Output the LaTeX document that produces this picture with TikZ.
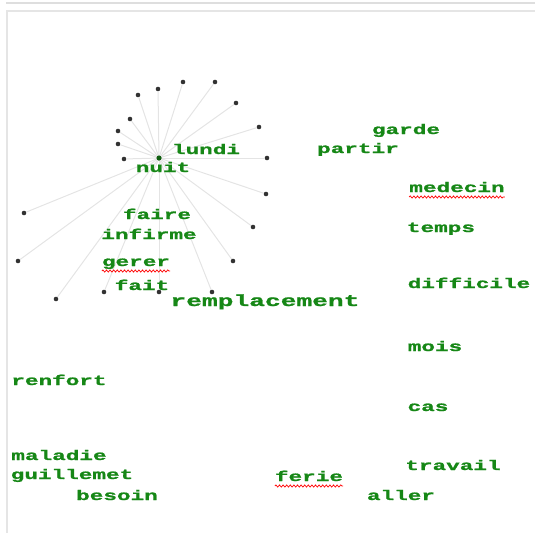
\documentclass[tikz,border=0pt]{standalone}
\usepackage{fontspec}
\usetikzlibrary{decorations.pathmorphing}
\newfontfamily\wordfont[FakeStretch=1.62,FakeBold=1.2]{Liberation Mono}
\definecolor{wordgreen}{RGB}{22,135,22}
\definecolor{spokegray}{RGB}{228,228,228}
\definecolor{dotgray}{RGB}{50,50,50}
\definecolor{framegray}{RGB}{222,222,222}
\begin{document}
\begin{tikzpicture}[x=1pt,y=-1pt,
  word/.style={anchor=base,inner sep=0pt,text=wordgreen,
    font=\wordfont\bfseries\fontsize{14}{16}\selectfont},
  bigword/.style={word,font=\wordfont\bfseries\fontsize{16.2}{18}\selectfont},
  leaf/.style={circle,fill=dotgray,inner sep=0pt,minimum size=4.6pt},
  hubdot/.style={circle,fill=wordgreen!70!black,inner sep=0pt,minimum size=5pt},
  spoke/.style={draw=spokegray,line width=1pt},
  squiggle/.style={draw=red,line width=0.7pt,
    decorate,decoration={snake,segment length=3.6pt,amplitude=1.1pt}},
  frameline/.style={draw=framegray,line width=1.6pt}]
\useasboundingbox (0,0) rectangle (535,533);
% window frame
\draw[frameline] (6,3) -- (535,3);
\draw[frameline,draw=framegray!80] (7,533) -- (7,11) -- (535,11);

% star of spokes around the hub
\node[hubdot] (hub) at (159,158) {};
\foreach \n/\p in {l1/{(138,95)},l2/{(158,89)},l3/{(183,82)},l4/{(215,82)},
  l5/{(236,103)},l6/{(259,127)},l7/{(267,158)},l8/{(266,194)},l9/{(253,227)},
  l10/{(233,261)},l11/{(212,292)},l12/{(159,292)},l13/{(104,292)},
  l14/{(56,299)},l15/{(18,261)},l16/{(24,213)},l17/{(124,159)},
  l18/{(118,144)},l19/{(118,131)},l20/{(130,119)}}{
  \node[leaf] (\n) at \p {};
  \path[spoke] (hub) -- (\n);
}
\node[hubdot] at (hub) {};

% words
\node[word] (lundi) at (206,154) {lundi};
\node[word] (nuit) at (163,172) {nuit};
\node[word] (garde) at (406,134) {garde};
\node[word] (partir) at (358,153) {partir};
\node[word] (medecin) at (457,192) {medecin};
\node[word] (temps) at (441,232) {temps};
\node[word] (difficile) at (469,288) {difficile};
\node[word] (faire) at (157,219) {faire};
\node[word] (infirme) at (149,239) {infirme};
\node[word] (gerer) at (136,266) {gerer};
\node[word] (fait) at (142,290) {fait};
\node[bigword] (remplacement) at (265,306) {remplacement};
\node[word] (mois) at (435,351) {mois};
\node[word] (renfort) at (59,385) {renfort};
\node[word] (cas) at (428,411) {cas};
\node[word] (maladie) at (59,460) {maladie};
\node[word] (guillemet) at (72,479) {guillemet};
\node[word] (besoin) at (117,500) {besoin};
\node[word] (ferie) at (309,481) {ferie};
\node[word] (travail) at (453,470) {travail};
\node[word] (aller) at (401,500) {aller};

% spelling marks
\foreach \w in {gerer,medecin,ferie}{
  \path[squiggle] ([yshift=-5pt]\w.base west) -- ([yshift=-5pt]\w.base east);
}
\end{tikzpicture}
\end{document}
